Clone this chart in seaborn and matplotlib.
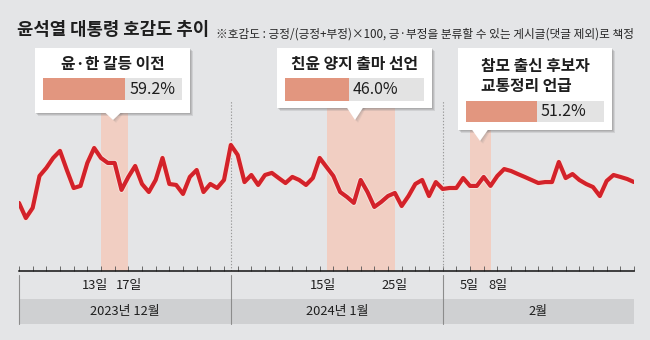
import numpy as np
import pandas as pd
import matplotlib
matplotlib.use("Agg")
import matplotlib.pyplot as plt
import seaborn as sns
import matplotlib.patheffects as pe
import matplotlib.transforms as mtransforms
from matplotlib.patches import Rectangle, Polygon

# ---------------- data ----------------
# day index 0 = 2023-12-01 ... 90 = 2024-02-29
days = list(range(91))
favor = [38.8, 29.4, 35.7, 55.6, 60.6, 66.8, 71.2, 59.3, 48.1, 49.4,
         63.7, 73.0, 66.8, 63.7, 63.7, 46.9, 55.0, 61.8, 50.6, 45.6,
         53.1, 66.8, 50.6, 50.0, 44.4, 55.0, 59.3, 45.6, 50.6, 48.1,
         53.1, 74.9, 68.7, 51.8, 56.2, 50.0, 56.2, 57.5, 54.3, 51.2,
         55.0, 53.1, 50.0, 54.3, 66.8, 61.2, 55.6, 45.6, 42.5, 38.8,
         53.1, 45.6, 36.3, 39.4, 43.1, 45.0, 36.9, 43.1, 50.6, 53.1,
         43.1, 51.8, 47.5, 48.1, 48.1, 54.3, 49.4, 49.4, 55.0, 49.4,
         55.6, 59.9, 58.7, 56.8, 55.0, 53.1, 51.2, 51.8, 51.8, 64.3,
         54.3, 56.8, 53.1, 50.6, 48.7, 43.1, 52.5, 56.2, 55.0, 53.7,
         51.8]

month_labels = ["2023년 12월", "2024년 1월", "2월"]
month_starts = [0, 31, 62]
last_day = 90

day_labels = ["13일", "17일", "15일", "25일", "5일", "8일"]
day_label_days = [12, 16, 45, 55, 66, 69]

period_start = [12, 45, 66]
period_end = [16, 55, 69]
period_titles = ["윤·한 갈등 이전", "친윤 양지 출마 선언", "참모 출신 후보자\n교통정리 언급"]
period_values = [59.2, 46.0, 51.2]

title = "윤석열 대통령 호감도 추이"
subtitle = "※호감도 : 긍정/(긍정+부정)×100, 긍·부정을 분류할 수 있는 게시글(댓글 제외)로 책정"

# ---------------- style ----------------
sns.set_style("white")
plt.rcParams["font.family"] = ["Noto Sans CJK KR", "DejaVu Sans"]

BG = "#e4e5e7"
RED = "#d3222a"
BAND = "#f1cec2"
BARFILL = "#e2967f"
BARREST = "#e3e3e3"
ROW = "#cfd0d2"
TXT = "#1e1e1e"

W, H = 650, 340
fig = plt.figure(figsize=(6.5, 3.4), dpi=100, facecolor=BG)

base_y = 271  # pixel row of the axis baseline
x_left, x_right = 19, 634
ax = fig.add_axes([x_left / W, (H - base_y) / H, (x_right - x_left) / W, base_y / H])
ax.set_facecolor("none")
ax.set_xlim(0, last_day)
ax.set_ylim(-3.6, 165.2)

df = pd.DataFrame({"day": days, "favor": favor})

# highlighted periods
band_tops = [113, 108, 130]
for s, e, top in zip(period_start, period_end, band_tops):
    ax.axvspan(s, e, ymin=0, ymax=(base_y - top) / base_y, color=BAND, lw=0, zorder=0)

# month dividers (dotted)
for m in month_starts[1:]:
    ax.axvline(m, ymin=0, ymax=(base_y - 100) / base_y, color="#9a9a9a",
               lw=0.8, ls=(0, (1.2, 1.6)), zorder=1)

sns.lineplot(data=df, x="day", y="favor", ax=ax, color=RED, lw=3.0,
             solid_joinstyle="round", solid_capstyle="round", zorder=3,
             path_effects=[pe.Stroke(linewidth=4.3, foreground="#f5e3dd"), pe.Normal()])

ax.set_xlabel("")
ax.set_ylabel("")
ax.set_yticks([])
ax.set_xticks(range(0, last_day + 1, 2))
ax.tick_params(axis="x", direction="in", length=3.5, width=0.6, color="#555555",
               labelbottom=False, bottom=True)
for sp in ["top", "left", "right"]:
    ax.spines[sp].set_visible(False)
ax.spines["bottom"].set_color("#111111")
ax.spines["bottom"].set_linewidth(1.1)

# ---------------- overlay (pixel coordinates) ----------------
ov = fig.add_axes([0, 0, 1, 1], zorder=5)
ov.set_xlim(0, W)
ov.set_ylim(H, 0)
ov.axis("off")
ov.patch.set_alpha(0)
trans = mtransforms.blended_transform_factory(ax.transData, ov.transData)

ov.text(17, 30, title, fontsize=12.8, fontweight="heavy", color=TXT, va="center", ha="left")
ov.text(216, 34, subtitle, fontsize=8.4, color="#262626", va="center", ha="left")

# bottom table
ov.add_patch(Rectangle((0, 299), last_day, 25, transform=trans, color=ROW, lw=0, zorder=1))
for m in month_starts:
    ov.plot([m, m], [275, 324], transform=trans, color="#8c8c8c", lw=0.8, zorder=2)
bounds = month_starts + [last_day]
for i, lab in enumerate(month_labels):
    ov.text((bounds[i] + bounds[i + 1]) / 2, 312, lab, transform=trans, fontsize=9.3,
            ha="center", va="center", color=TXT, zorder=3)
nudges = [-0.9, 0.1, -0.5, -0.1, -0.1, 1.1]
for lab, d, n in zip(day_labels, day_label_days, nudges):
    ov.text(d + n, 286, lab, transform=trans, fontsize=9.3, ha="center", va="center",
            color=TXT, zorder=3)

# callouts
boxes = [(35, 48, 155, 65), (277, 48, 155, 60), (458, 48, 154, 82)]
pointer_x = [113, 355, 480]
pointer_tip = [120, 120, 141]
bars = [(43, 78, 139, 22), (285, 78, 139, 23), (466, 101, 138, 21)]
for i, ((bx, by, bw, bh), px, pt, (rx, ry, rw, rh)) in enumerate(
        zip(boxes, pointer_x, pointer_tip, bars)):
    # shadow
    for off, a in [(3.0, 0.18), (2.0, 0.22), (1.0, 0.25)]:
        ov.add_patch(Rectangle((bx + off, by + off), bw, bh, color="#7a7a7a", alpha=a, lw=0, zorder=4))
        ov.add_patch(Polygon([(px - 8 + off, by + bh), (px + 8 + off, by + bh), (px + off, pt + off)],
                             closed=True, color="#7a7a7a", alpha=a * 0.6, lw=0, zorder=4))
    ov.add_patch(Rectangle((bx, by), bw, bh, color="white", lw=0, zorder=5))
    ov.add_patch(Polygon([(px - 8.5, by + bh - 1), (px + 8.5, by + bh - 1), (px, pt)],
                         closed=True, color="white", lw=0, zorder=5))
    lines = period_titles[i].split("\n")
    if len(lines) == 1:
        ov.text(bx + bw / 2, by + 16, lines[0], fontsize=11.4, fontweight="bold",
                ha="center", va="center", color=TXT, zorder=6)
    else:
        for j, ln in enumerate(lines):
            ov.text(bx + 23, by + 18.5 + 20 * j, ln, fontsize=11.4, fontweight="bold",
                    ha="left", va="center", color=TXT, zorder=6)
    v = period_values[i]
    ov.add_patch(Rectangle((rx, ry), rw, rh, color=BARREST, lw=0, zorder=6))
    ov.add_patch(Rectangle((rx, ry), rw * v / 100, rh, color=BARFILL, lw=0, zorder=7))
    ov.text(rx + rw * v / 100 + 4, ry + rh / 2, f"{v:.1f}%", fontsize=11.5,
            ha="left", va="center", color=TXT, zorder=8)

fig.savefig("out.png", dpi=100, facecolor=BG)
